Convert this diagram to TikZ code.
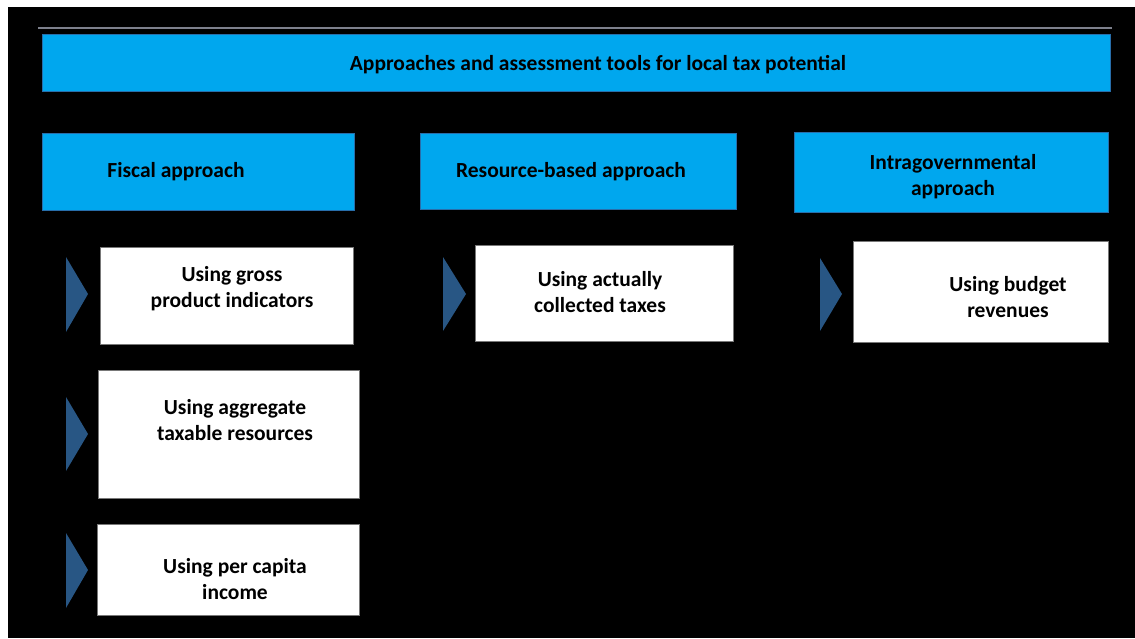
\documentclass[tikz,border=0pt]{standalone}
\usepackage{fontspec}
\setmainfont{Carlito}
\definecolor{cyanbox}{RGB}{0,167,238}
\definecolor{hdrline}{RGB}{40,110,170}
\definecolor{itemline}{RGB}{120,120,120}
\definecolor{tricol}{RGB}{40,86,132}
\definecolor{rulegray}{RGB}{125,128,140}
\begin{document}
\begin{tikzpicture}[x=1pt,y=-1pt,
  hdr/.style={draw=hdrline, line width=0.8pt, fill=cyanbox, anchor=north west, inner sep=0pt},
  item/.style={draw=itemline, line width=0.8pt, fill=white, anchor=north west, inner sep=0pt},
  lbl/.style={font=\fontsize{21.5}{26}\selectfont\bfseries, align=center, text=black, inner sep=0pt},
  tri/.style={fill=tricol}]
\useasboundingbox (0,0) rectangle (1135,638);
\fill[white] (0,0) rectangle (1135,638);
\fill[black] (8,7) rectangle (1135,638);
\draw[rulegray, line width=2pt] (38,28) -- (1112,28);
% title
\node[hdr, minimum width=1068pt, minimum height=57pt] (title) at (42,34) {};
\node[lbl] (titletext) at (598,65) {Approaches and assessment tools for local tax potential};
% headers
\node[hdr, minimum width=312pt, minimum height=77pt] (fiscal) at (42,133) {};
\node[lbl] (fiscaltext) at (176,172) {Fiscal approach};
\node[hdr, minimum width=316pt, minimum height=76pt] (resource) at (420,133) {};
\node[lbl] (resourcetext) at (571,172) {Resource-based approach};
\node[hdr, minimum width=314pt, minimum height=80pt] (intra) at (794,132) {};
\node[lbl] (intratext) at (953,177) {Intragovernmental\\approach};
% items
\node[item, minimum width=253pt, minimum height=97pt] (gross) at (100,247) {};
\node[lbl] (grosstext) at (232,289) {Using gross\\product indicators};
\node[item, minimum width=261pt, minimum height=128pt] (aggr) at (98,370) {};
\node[lbl] (aggrtext) at (235,420) {Using aggregate\\taxable resources};
\node[item, minimum width=262pt, minimum height=91pt] (capita) at (97,524) {};
\node[lbl] (capitatext) at (235,579.5) {Using per capita\\income};
\node[item, minimum width=258pt, minimum height=96pt] (taxes) at (475,245) {};
\node[lbl] (taxestext) at (600,292) {Using actually\\collected taxes};
\node[item, minimum width=255pt, minimum height=101pt] (budget) at (853,241) {};
\node[lbl] (budgettext) at (1008,297) {Using budget\\revenues};
% triangles
\fill[tri] (66,257) -- (88,294) -- (66,332) -- cycle;
\fill[tri] (66,397) -- (88,434) -- (66,471) -- cycle;
\fill[tri] (66,533) -- (88,570) -- (66,608) -- cycle;
\fill[tri] (443,257) -- (466,294) -- (443,331) -- cycle;
\fill[tri] (820,258) -- (842,294) -- (820,331) -- cycle;
\end{tikzpicture}
\end{document}
